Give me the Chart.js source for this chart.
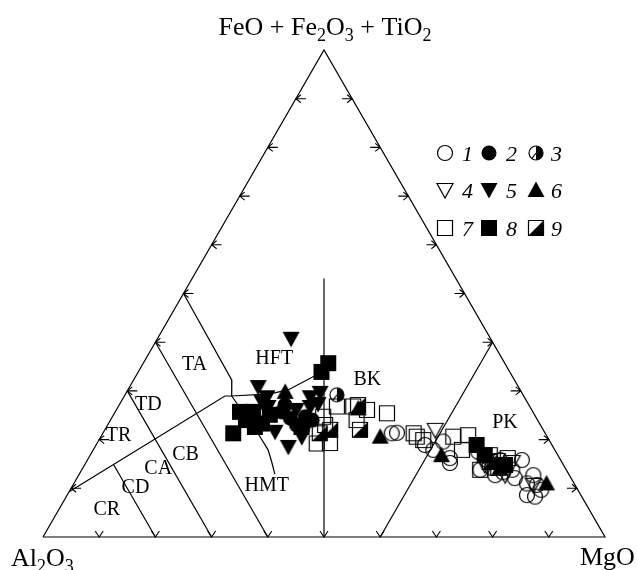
<!DOCTYPE html>
<html><head><meta charset="utf-8">
<script src="https://cdn.jsdelivr.net/npm/chart.js@4"></script>
<style>html,body{margin:0;padding:0;background:#fff}#wrap{width:637px;height:570px;position:relative}</style>
</head><body><div id="wrap"><canvas id="c" width="637" height="570"></canvas></div>
<script>
// ---- Data (ternary: FeO+Fe2O3+TiO2 = Fe, MgO = Mg, Al2O3 = 100 - Fe - Mg) ----
const seriesLabels = ['1','2','3','4','5','6','7','8','9'];
const s1Fe = [21.3,21.4,18.9,17.9,19.6,16.2,15.2,15.8,12.7,11.0,10.7,8.6,8.3,13.8,14.2,13.3,13.8,15.8,15.8,12.1,9.7,17.5,12.7];
const s1Mg = [51.4,52.3,58.5,60.5,61.4,64.3,64.8,77.3,80.9,80.6,82.5,81.8,83.4,70.9,72.8,75.2,76.6,71.1,73.4,77.9,83.8,68.7,74.1];
const s2Fe = [25.7,24.7,23.0,24.4,24.0,27.1];
const s2Mg = [29.6,34.3,33.6,31.8,35.9,29.5];
const s3Fe = [29.2];
const s3Mg = [37.7];
const s4Fe = [22.0,15.8,15.4,10.7,12.7,14.8];
const s4Mg = [58.8,72.9,75.8,81.9,75.9,71.2];
const s5Fe = [40.7,30.8,28.7,28.7,26.7,21.6,18.5,20.5,26.7,27.3,26.1,27.7,29.6,22.0];
const s5Mg = [23.8,22.9,25.5,33.2,34.2,30.5,34.4,35.8,26.7,35.3,32.0,25.1,34.5,35.6];
const s6Fe = [29.8,26.4,20.6,16.8,11.0,14.2];
const s6Mg = [28.2,42.9,49.7,62.5,84.1,74.2];
const s7Fe = [26.8,26.1,25.4,24.0,20.6,19.9,20.6,20.9,17.9,24.7,19.2,23.0,19.3,16.8,16.2,13.8,26.8,21.3,14.2];
const s7Mg = [38.9,44.6,48.5,43.8,56.2,57.7,62.7,65.2,65.6,37.5,39.1,38.7,41.4,71.1,74.6,70.9,41.8,55.3,73.9];
const s8Fe = [35.7,33.9,25.7,25.7,23.3,21.3,22.6,22.6,18.9,24.0,25.1,16.8,14.8];
const s8Mg = [32.9,32.6,22.2,24.5,27.3,23.2,26.4,34.7,67.7,24.1,27.8,70.2,74.8];
const s9Fe = [22.0,21.3,22.0,27.1,15.4];
const s9Mg = [45.4,38.6,40.1,42.5,71.8];

// Field boundaries (Fe, Mg)
const frameFe = [0,100,0,0],            frameMg = [0,0,100,0];
const al70Fe = [30,0],                  al70Mg = [0,30];
const al60Fe = [40,0],                  al60Mg = [0,40];
const al80Fe = [14.9,0],                al80Mg = [5.1,20];
const al50Fe = [50,32.2,28.95],         al50Mg = [0,17.5,19.1];
const tcFe = [9.3,28.95,28.95],         tcMg = [0,17.9,19.1];
const hftFe = [28.95,29.4,30.2,32.9,34.0], hftMg = [19.1,25.7,28.5,31.6,33.0];
const hmtFe = [28.95,20.9,17.9,15.4,12.9], hmtMg = [19.1,28.0,31.1,33.0,34.8];
const kvFe = [0,53.1],                  kvMg = [50,23.45];
const pkFe = [0,40],                    pkMg = [60,60];
const tickPercents = [10,20,30,40,50,60,70,80,90];

const fieldLabels = ['TA','TD','TR','CR','CD','CA','CB','HMT','HFT','BK','PK'];
const fieldLabelFe = [35.3,27.1,20.7,5.5,10.1,14.0,16.9,10.6,36.5,32.2,23.4];
const fieldLabelMg = [9.3,5.2,3.1,8.6,11.4,13.5,16.9,34.5,22.9,41.6,70.5];

function toXY(fe, mg){ return fe.map((f,i)=>({x: mg[i] + f/2, y: f})); }

// ---- markers ----
function mk(kind){
  const s=20, m=10, c=document.createElement('canvas');
  c.width=s; c.height=s;
  const g=c.getContext('2d');
  g.lineWidth=1.2; g.strokeStyle='#000'; g.fillStyle='#000';
  const r=7.5;
  g.beginPath();
  switch(kind){
    case 'co': g.arc(m,m,r,0,Math.PI*2); g.stroke(); break;
    case 'cf': g.arc(m,m,r,0,Math.PI*2); g.fill(); break;
    case 'ch':
      g.arc(m,m,r-0.5,0,Math.PI*2); g.stroke();
      g.beginPath(); g.moveTo(m,m); g.arc(m,m,r-0.5,-Math.PI/2,Math.PI/2); g.closePath(); g.fill();
      g.beginPath(); g.moveTo(m,m); g.lineTo(m-r*0.6,m+r*0.8); g.stroke();
      break;
    case 'tdo': g.moveTo(m-8,m-6.5); g.lineTo(m+8,m-6.5); g.lineTo(m,m+8); g.closePath(); g.stroke(); break;
    case 'tdf': g.moveTo(m-8.5,m-7); g.lineTo(m+8.5,m-7); g.lineTo(m,m+8.5); g.closePath(); g.fill(); break;
    case 'tuf': g.moveTo(m,m-8.5); g.lineTo(m+8.5,m+7); g.lineTo(m-8.5,m+7); g.closePath(); g.fill(); break;
    case 'so': g.rect(m-7.5,m-7.5,15,15); g.stroke(); break;
    case 'sf': g.rect(m-8,m-8,16,16); g.fill(); break;
    case 'sh':
      g.rect(m-7.5,m-7.5,15,15); g.stroke();
      g.beginPath(); g.moveTo(m-7.5,m+7.5); g.lineTo(m+7.5,m+7.5); g.lineTo(m+7.5,m-7.5); g.closePath(); g.fill();
      break;
  }
  return c;
}
const markerKinds = ['co','cf','ch','tdo','tdf','tuf','so','sf','sh'];
const markers = markerKinds.map(mk);

const seriesFe = [s1Fe,s2Fe,s3Fe,s4Fe,s5Fe,s6Fe,s7Fe,s8Fe,s9Fe];
const seriesMg = [s1Mg,s2Mg,s3Mg,s4Mg,s5Mg,s6Mg,s7Mg,s8Mg,s9Mg];

function lineDs(fe, mg){
  return {type:'scatter', data: toXY(fe,mg), showLine:true, borderColor:'#000', borderWidth:1.2,
    pointRadius:0, fill:false, tension:0, clip:false, order:10};
}
const datasets = [
  lineDs(frameFe,frameMg), lineDs(al70Fe,al70Mg), lineDs(al60Fe,al60Mg), lineDs(al80Fe,al80Mg),
  lineDs(al50Fe,al50Mg), lineDs(tcFe,tcMg), lineDs(hftFe,hftMg), lineDs(hmtFe,hmtMg),
  lineDs(kvFe,kvMg), lineDs(pkFe,pkMg)
];
const filledSeries = [1,4,5,7];
seriesLabels.forEach((lab,i)=>{
  datasets.push({type:'scatter', label: lab, data: toXY(seriesFe[i], seriesMg[i]),
    pointStyle: markers[i], pointRadius: 8, showLine:false, clip:false,
    order: filledSeries.includes(i) ? 1 : 3});
});

const SERIF = '"Liberation Serif","Times New Roman",serif';

const decor = {
  id:'decor',
  beforeDatasetsDraw(chart){
    const ctx=chart.ctx, sx=chart.scales.x, sy=chart.scales.y;
    const P=(fe,mg)=>[sx.getPixelForValue(mg+fe/2), sy.getPixelForValue(fe)];
    ctx.save();
    ctx.strokeStyle='#000'; ctx.lineWidth=1.1;
    tickPercents.forEach(k=>{
      let [x,y]=P(k,0);
      ctx.beginPath(); ctx.moveTo(x,y); ctx.lineTo(x+10,y);
      ctx.moveTo(x+5,y-4); ctx.lineTo(x,y); ctx.lineTo(x+5,y+4); ctx.stroke();
      [x,y]=P(k,100-k);
      ctx.beginPath(); ctx.moveTo(x-10,y); ctx.lineTo(x,y);
      ctx.moveTo(x-5,y-4); ctx.lineTo(x,y); ctx.lineTo(x-5,y+4); ctx.stroke();
      [x,y]=P(0,k);
      ctx.beginPath(); ctx.moveTo(x-4,y-6); ctx.lineTo(x,y); ctx.lineTo(x+4,y-6); ctx.stroke();
    });
    ctx.fillStyle='#000';
    ctx.font='20px '+SERIF; ctx.textAlign='center'; ctx.textBaseline='middle';
    fieldLabels.forEach((t,i)=>{
      const [x,y]=P(fieldLabelFe[i], fieldLabelMg[i]);
      ctx.fillText(t,x,y);
    });
    ctx.restore();
  },
  afterDraw(chart){
    const ctx=chart.ctx;
    ctx.save(); ctx.fillStyle='#000'; ctx.textBaseline='alphabetic'; ctx.textAlign='left';
    function rich(parts, x, y, align){
      let w=0;
      parts.forEach(p=>{ ctx.font=(p.sub?'18px ':'26px ')+SERIF; w+=ctx.measureText(p.t).width; });
      let cx = align==='center' ? x - w/2 : x;
      parts.forEach(p=>{ ctx.font=(p.sub?'18px ':'26px ')+SERIF; ctx.fillText(p.t,cx,y+(p.sub?6:0)); cx+=ctx.measureText(p.t).width; });
    }
    rich([{t:'FeO + Fe'},{t:'2',sub:1},{t:'O'},{t:'3',sub:1},{t:' + TiO'},{t:'2',sub:1}], 325, 35, 'center');
    rich([{t:'Al'},{t:'2',sub:1},{t:'O'},{t:'3',sub:1}], 11, 566, 'left');
    rich([{t:'MgO'}], 580, 565, 'left');
    // legend
    const symX=[445,489,536], txtX=[462,506,551], rowY=[153,190,228];
    ctx.font='italic 22px '+SERIF;
    for(let i=0;i<9;i++){
      const r=Math.floor(i/3), c=i%3;
      const img=markers[i];
      ctx.drawImage(img, Math.round(symX[c]-img.width/2), Math.round(rowY[r]-img.height/2));
      ctx.fillText(seriesLabels[i], txtX[c], rowY[r]+8);
    }
    ctx.restore();
  }
};

new Chart(document.getElementById('c'), {
  type:'scatter',
  data:{datasets},
  options:{
    responsive:false, animation:false, devicePixelRatio:1,
    layout:{padding:{left:43,right:32,top:50,bottom:33}},
    scales:{x:{type:'linear',min:0,max:100,display:false}, y:{type:'linear',min:0,max:100,display:false}},
    plugins:{legend:{display:false}, tooltip:{enabled:false}},
    events:[]
  },
  plugins:[decor]
});
</script></body></html>
